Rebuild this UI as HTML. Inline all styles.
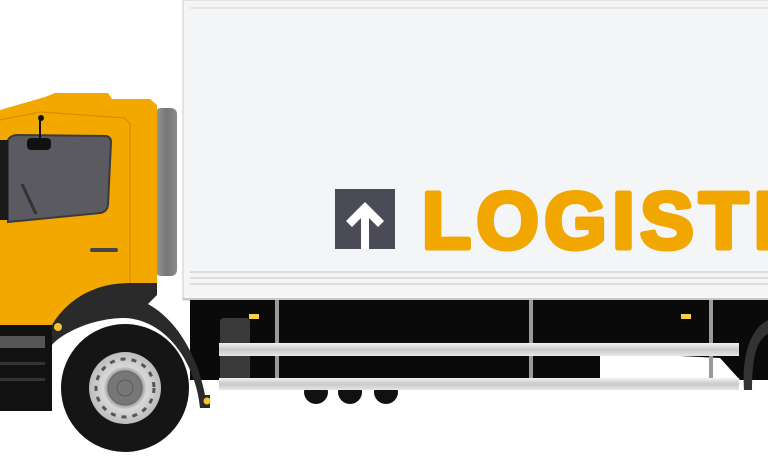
<!DOCTYPE html>
<html><head><meta charset="utf-8"><style>
html,body{margin:0;padding:0;background:#fff;width:768px;height:456px;overflow:hidden}
svg{display:block}
</style></head><body>
<svg width="768" height="456" viewBox="0 0 768 456">
  <defs>
    <linearGradient id="rail" x1="0" y1="0" x2="0" y2="1">
      <stop offset="0" stop-color="#f2f2f2"/><stop offset="0.5" stop-color="#c9c9c9"/><stop offset="1" stop-color="#e6e6e6"/>
    </linearGradient>
    <linearGradient id="col" x1="0" y1="0" x2="1" y2="0">
      <stop offset="0" stop-color="#9a9a9a"/><stop offset="0.5" stop-color="#777"/><stop offset="1" stop-color="#8a8a8a"/>
    </linearGradient>
    <radialGradient id="rim" cx="0.5" cy="0.5" r="0.5">
      <stop offset="0.45" stop-color="#8a8a8a"/><stop offset="0.6" stop-color="#d8d8d8"/><stop offset="1" stop-color="#bcbcbc"/>
    </radialGradient>
  </defs>

  <g>
    <rect x="183" y="0" width="600" height="300" fill="#f4f5f7" stroke="#dcdcdc" stroke-width="1.5"/>
    <line x1="190" y1="8" x2="768" y2="8" stroke="#e0e0e0" stroke-width="1.5"/>
    <line x1="190" y1="272" x2="768" y2="272" stroke="#d5d5d5" stroke-width="1.5"/>
    <line x1="190" y1="278" x2="768" y2="278" stroke="#d5d5d5" stroke-width="1.5"/>
    <line x1="190" y1="284" x2="768" y2="284" stroke="#d5d5d5" stroke-width="1.5"/>
    <line x1="183" y1="299" x2="768" y2="299" stroke="#bbb" stroke-width="1.5"/>
  </g>

  <g>
    <rect x="335" y="189" width="60" height="60" fill="#4b4b57"/>
    <path d="M361 249 V218 L352 227 L346 221 L365 202 L384 221 L378 227 L369 218 V249 Z" fill="#fff"/>
    <text x="422" y="248" style="font-family:'Liberation Sans',sans-serif;font-weight:700;font-size:80px" fill="#f2a600" stroke="#f2a600" stroke-width="5" stroke-linejoin="round" textLength="354" lengthAdjust="spacing">LOGISTI</text>
  </g>

  <g>
    <rect x="190" y="300" width="578" height="80" fill="#0a0a0a"/>
    <polygon points="600,380 600,352 720,358 740,380" fill="#fff"/>
    <rect x="220" y="318" width="30" height="64" rx="4" fill="#3a3a3a"/>
    <rect x="275" y="300" width="4" height="82" fill="#9a9a9a"/>
    <rect x="529" y="300" width="4" height="82" fill="#9a9a9a"/>
    <rect x="709" y="300" width="4" height="82" fill="#9a9a9a"/>
    <rect x="249" y="314" width="10" height="5" fill="#f4d04a"/>
    <rect x="681" y="314" width="10" height="5" fill="#f4d04a"/>
    <circle cx="316" cy="392" r="12" fill="#111"/>
    <circle cx="350" cy="392" r="12" fill="#111"/>
    <circle cx="386" cy="392" r="12" fill="#111"/>
    <rect x="219" y="343" width="520" height="13" fill="url(#rail)"/>
    <rect x="219" y="378" width="520" height="12" fill="url(#rail)"/>
    <path d="M768 320 C748 330 742 360 744 390 L752 390 C752 360 756 340 768 334 Z" fill="#333"/>
  </g>

  <g>
    <rect x="155" y="108" width="22" height="168" rx="6" fill="url(#col)"/>
    <path d="M0 110 L45 97 L55 93 L108 93 L112 99 L150 99 L157 105 L157 283 L130 283 C95 283 70 300 52 325 L0 325 Z" fill="#f3a800"/>
    <path d="M0 120 L40 112 L125 118 L130 124 L130 283" fill="none" stroke="#d48f00" stroke-width="1.2"/>
    <path d="M8 140 Q10 136 16 135 L106 136 Q111 137 111 142 L108 205 Q107 212 100 213 L8 222 Z" fill="#5a5a60" stroke="#3a3a3e" stroke-width="2"/>
    <line x1="22" y1="184" x2="36" y2="214" stroke="#333" stroke-width="3"/>
    <rect x="0" y="140" width="8" height="80" fill="#1a1a1a"/>
    <line x1="40" y1="120" x2="40" y2="140" stroke="#111" stroke-width="2"/>
    <circle cx="41" cy="118" r="3" fill="#111"/>
    <rect x="27" y="138" width="24" height="12" rx="4" fill="#111"/>
    <rect x="90" y="248" width="28" height="4" rx="2" fill="#444"/>
    <line x1="128" y1="283" x2="128" y2="300" stroke="#ccc" stroke-width="1"/>
    <path d="M52 325 C70 295 100 283 130 283 L157 283 L157 295 L148 304 C170 316 195 345 205 395 L210 395 L210 408 L200 408 C195 360 165 320 125 318 C90 318 60 335 52 345 Z" fill="#2a2a2a"/>
    <rect x="0" y="325" width="52" height="86" fill="#111"/>
    <rect x="0" y="336" width="45" height="12" fill="#555"/>
    <rect x="0" y="362" width="45" height="3" fill="#333"/>
    <rect x="0" y="378" width="45" height="3" fill="#333"/>
    <circle cx="58" cy="327" r="4" fill="#f4c430"/>
    <circle cx="207" cy="401" r="3.5" fill="#f4c430"/>
  </g>

  <g>
    <circle cx="125" cy="388" r="64" fill="#151515"/>
    <circle cx="125" cy="388" r="36" fill="url(#rim)"/>
    <circle cx="125" cy="388" r="17" fill="#777" stroke="#666" stroke-width="1"/>
    <circle cx="125" cy="388" r="8" fill="none" stroke="#5a5a5a" stroke-width="1"/>
    <circle cx="125" cy="388" r="29" fill="none" stroke="#555" stroke-width="3" stroke-dasharray="5 6"/>
  </g>
</svg>
</body></html>
